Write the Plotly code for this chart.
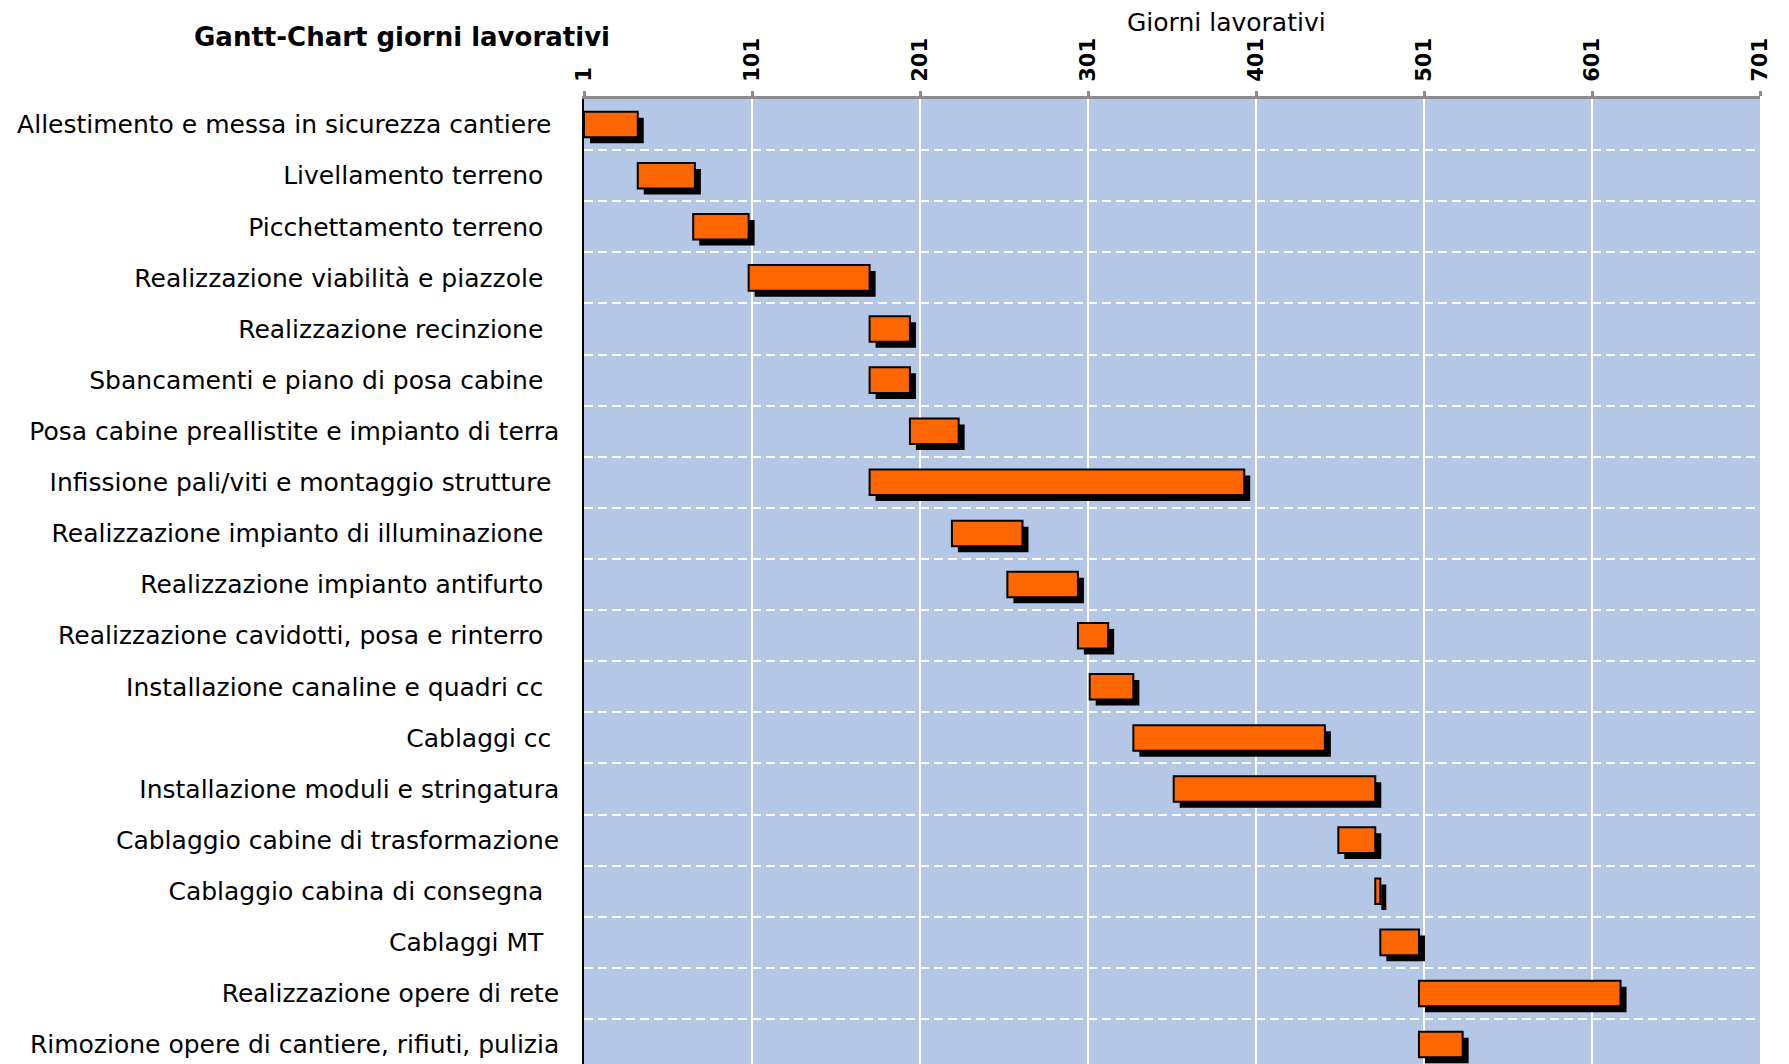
import plotly.graph_objects as go

categories = [
    "Allestimento e messa in sicurezza cantiere ",
    "Livellamento terreno  ",
    "Picchettamento terreno  ",
    "Realizzazione viabilità e piazzole  ",
    "Realizzazione recinzione  ",
    "Sbancamenti e piano di posa cabine  ",
    "Posa cabine preallistite e impianto di terra",
    "Infissione pali/viti e montaggio strutture ",
    "Realizzazione impianto di illuminazione  ",
    "Realizzazione impianto antifurto  ",
    "Realizzazione cavidotti, posa e rinterro  ",
    "Installazione canaline e quadri cc  ",
    "Cablaggi cc ",
    "Installazione moduli e stringatura",
    "Cablaggio cabine di trasformazione",
    "Cablaggio cabina di consegna  ",
    "Cablaggi MT  ",
    "Realizzazione opere di rete",
    "Rimozione opere di cantiere, rifiuti, pulizia",
]
start_day = [1, 33, 66, 99, 171, 171, 195, 171, 220, 253, 295, 302, 328, 352, 450, 472, 475, 498, 498]
durata = [32, 34, 33, 72, 24, 24, 29, 223, 42, 42, 18, 26, 114, 120, 22, 3, 23, 120, 26]
x_ticks = [1, 101, 201, 301, 401, 501, 601, 701]

FONT = "DejaVu Sans"
n = len(categories)
ypos = list(range(n))
ticktext = [c.replace(" ", "\u00a0") for c in categories]

# page geometry (the page body adds an 8px offset)
W, H = 1781, 1056
ML, MR, MT, MB = 576, 29, 91, 0
plot_w = W - ML - MR
plot_h = H - MT - MB
y_bottom = n - 0.5 - 0.12
row_px = plot_h / (y_bottom + 0.5)
px_day = plot_w / 700.0
sdx = 6 / px_day
sdy = 6 / row_px

fig = go.Figure()
fig.add_trace(go.Bar(
    y=ypos, x=durata, base=[s + sdx for s in start_day], orientation="h",
    width=0.5, offset=-0.25 + sdy,
    marker=dict(color="black", line=dict(width=0)), hoverinfo="skip",
))
fig.add_trace(go.Bar(
    y=ypos, x=durata, base=start_day, orientation="h",
    width=0.5, offset=-0.25,
    marker=dict(color="#FF6600", line=dict(color="black", width=2)),
    customdata=categories, hovertemplate="%{customdata}: %{base} - %{x}<extra></extra>",
))

fig.update_layout(
    width=W, height=H,
    margin=dict(l=ML, r=MR, t=MT, b=MB),
    paper_bgcolor="white", plot_bgcolor="#B4C7E7",
    barmode="overlay", showlegend=False,
    title=dict(text="Gantt-Chart giorni lavorativi", x=394 / W, xanchor="center",
               y=1 - 29 / H, yanchor="middle",
               font=dict(family=FONT, size=26, weight="bold", color="black")),
    font=dict(family=FONT, color="black"),
)
fig.add_annotation(text="Giorni lavorativi", xref="paper", yref="paper",
                   x=(1226 - 8 - ML) / plot_w, y=1 + (MT - 14.5) / plot_h,
                   xanchor="center", yanchor="middle", showarrow=False, borderpad=0,
                   font=dict(family=FONT, size=25, color="black"))

fig.update_xaxes(
    side="top", range=[1, 701], tickvals=x_ticks, ticktext=[str(v) for v in x_ticks],
    tickangle=-90, tickfont=dict(family=FONT, size=21, weight="bold", color="black"),
    ticks="outside", ticklen=5, tickwidth=3, tickcolor="#8C8C8C", ticklabelstandoff=5,
    showline=True, linecolor="#8C8C8C", linewidth=3,
    showgrid=True, gridcolor="white", gridwidth=2, zeroline=False,
)
fig.update_yaxes(
    range=[y_bottom, -0.5], tickvals=ypos, ticktext=ticktext,
    tickfont=dict(family=FONT, size=25, color="black"),
    ticks="", ticklabelstandoff=18, ticklabeloverflow="allow",
    showline=True, linecolor="black", linewidth=1.5,
    showgrid=False, zeroline=False,
    minor=dict(tickvals=[i + 0.5 for i in range(n - 1)], showgrid=True,
               gridcolor="white", gridwidth=1.5, griddash="9px,5px", ticks=""),
)

fig.write_html("out.html")
